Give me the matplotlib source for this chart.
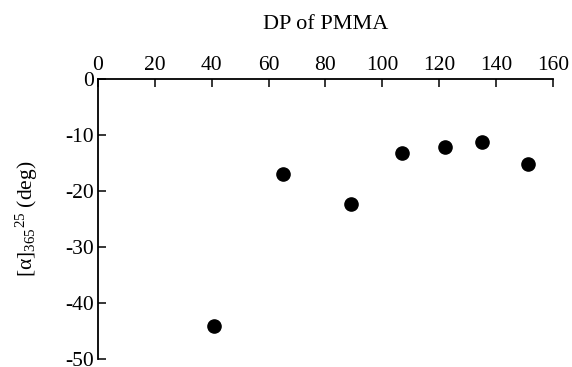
import matplotlib
matplotlib.use("Agg")
import matplotlib.pyplot as plt

# data
dp = [41, 65, 89, 107, 122, 135, 151]
rotation = [-44.1, -17.0, -22.3, -13.3, -12.2, -11.3, -15.2]
xticks = [0, 20, 40, 60, 80, 100, 120, 140, 160]
yticks = [0, -10, -20, -30, -40, -50]

plt.rcParams['font.family'] = 'Liberation Serif'
plt.rcParams['axes.unicode_minus'] = False
plt.rcParams['mathtext.fontset'] = 'custom'
plt.rcParams['mathtext.rm'] = 'Liberation Serif'
plt.rcParams['mathtext.it'] = 'Liberation Serif:italic'

fig = plt.figure(figsize=(5.72, 3.67), dpi=100)
ax = fig.add_axes([0.171, 0.022, 0.796, 0.763])

ax.plot(dp, rotation, 'o', color='black', markersize=9.5)

ax.set_xlim(0, 160)
ax.set_ylim(-50, 0)
ax.set_xticks(xticks)
ax.set_yticks(yticks)

ax.xaxis.set_ticks_position('top')
ax.xaxis.set_label_position('top')
ax.spines['right'].set_visible(False)
ax.spines['bottom'].set_visible(False)
for s in ('top', 'left'):
    ax.spines[s].set_linewidth(1.3)
ax.tick_params(direction='in', length=6, width=1.1, labelsize=15.5, pad=3)
ax.tick_params(axis='x', pad=3)

ax.set_xlabel('DP of PMMA', fontsize=16, labelpad=19)
ax.set_ylabel('[α]$_{\\mathrm{365}}$$^{\\mathrm{25}}$ (deg)', fontsize=15.5, labelpad=18)

fig.savefig('out.png', dpi=100)
